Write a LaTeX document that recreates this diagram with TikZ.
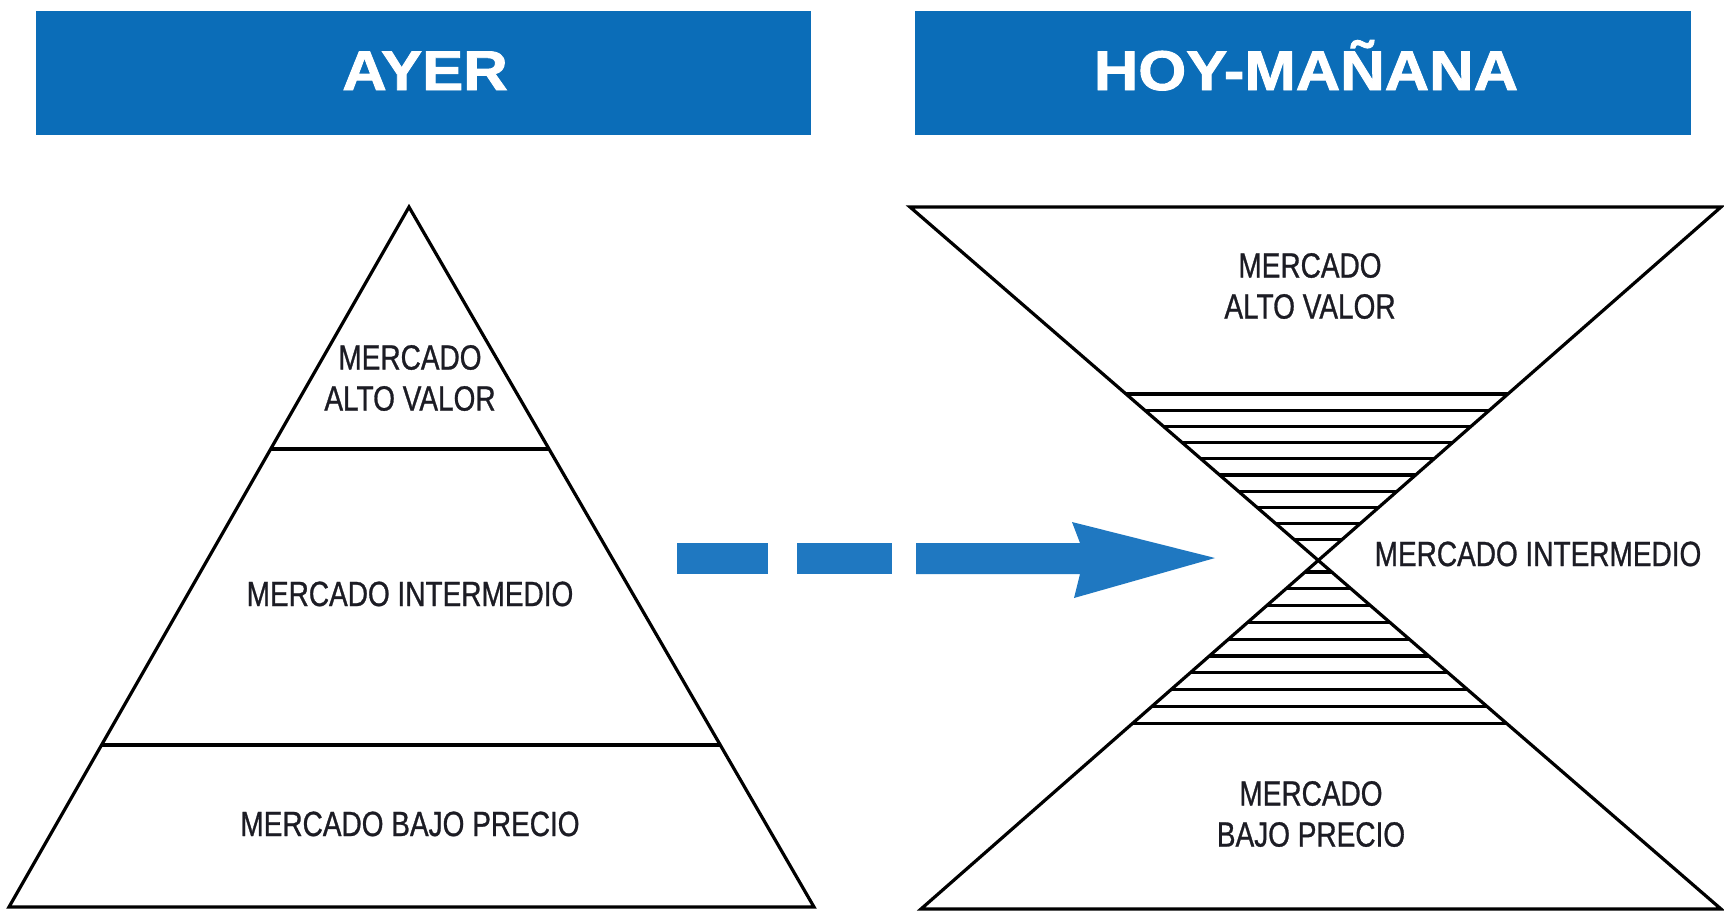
\documentclass[tikz,border=0pt]{standalone}
\usepackage{fontspec}
\setmainfont{Liberation Sans}
\newfontfamily\labelfont[FakeStretch=0.80,FakeBold=0.8]{Liberation Sans}
\newfontfamily\headfont[FakeStretch=1.10,FakeBold=1.6]{Liberation Sans Bold}
\usetikzlibrary{calc}
\definecolor{headblue}{HTML}{0B6DB8}
\definecolor{arrowblue}{HTML}{1F78C1}
\definecolor{ink}{HTML}{1C1C24}
\begin{document}
\begin{tikzpicture}[x=1pt,y=-1pt,
  headbox/.style={fill=headblue, draw=none, inner sep=0pt, anchor=north west},
  headtext/.style={text=white, font=\headfont\fontsize{56}{60}\selectfont, anchor=base, inner sep=0pt},
  lbl/.style={text=ink, font=\labelfont\fontsize{35}{41}\selectfont, align=center, inner sep=0pt},
  edge/.style={draw=black, line width=3.2pt, line join=miter},
  hatchline/.style={draw=black, line width=3.2pt},
  arrowpart/.style={fill=arrowblue, draw=none},
]
\useasboundingbox (0,0) rectangle (1724,911);
\fill[white] (0,0) rectangle (1724,911);

% headers
\node[headbox, minimum width=775pt, minimum height=124pt] (hdrA) at (36,11) {};
\node[headbox, minimum width=776pt, minimum height=124pt] (hdrB) at (915,11) {};
\node[headtext] (tA) at (425,90) {AYER};
\node[headtext] (tB) at (1306,90) {HOY-MAÑANA};

% pyramid
\coordinate (apex) at (409,207);
\coordinate (pbl) at (9,907);
\coordinate (pbr) at (814,907);
\draw[edge] (apex) -- (pbr) -- (pbl) -- cycle;
\draw[edge] ($(apex)!0.3457!(pbl)$) -- ($(apex)!0.3457!(pbr)$);
\draw[edge] ($(apex)!0.7686!(pbl)$) -- ($(apex)!0.7686!(pbr)$);

% hourglass
\coordinate (htl) at (910,207);
\coordinate (htr) at (1721,207);
\coordinate (hbl) at (921,909);
\coordinate (hbr) at (1721,909);
\draw[edge] (htl) -- (htr) -- (hbl) -- (hbr) -- cycle;
\foreach \yy in {394,410.2,426.4,442.6,458.8,475,491.2,507.4,523.6,539.8,
                 572,588.8,605.6,622.4,639.2,656,672.8,689.6,706.4,723.2}{
  \pgfmathsetmacro\hf{(\yy-207)/702}
  \draw[hatchline] ($(htl)!\hf!(hbr)$) -- ($(htr)!\hf!(hbl)$);
}

% arrow
\fill[arrowpart] (677,543) rectangle (768,574);
\fill[arrowpart] (797,543) rectangle (892,574);
\coordinate (tip) at (1215,558);
\fill[arrowpart] (916,543) -- (1080,543) -- (1072,522) -- (tip) -- (1074,598) -- (1080,574) -- (916,574) -- cycle;

% labels
\node[lbl] (pTop) at (410,378) {MERCADO\\ALTO VALOR};
\node[lbl, anchor=base] (pMid) at (410,606) {MERCADO INTERMEDIO};
\node[lbl, anchor=base] (pBot) at (410,836) {MERCADO BAJO PRECIO};
\node[lbl] (hTop) at (1310,286) {MERCADO\\ALTO VALOR};
\node[lbl, anchor=base] (hMid) at (1538,566) {MERCADO INTERMEDIO};
\node[lbl] (hBot) at (1311,814) {MERCADO\\BAJO PRECIO};
\end{tikzpicture}
\end{document}
